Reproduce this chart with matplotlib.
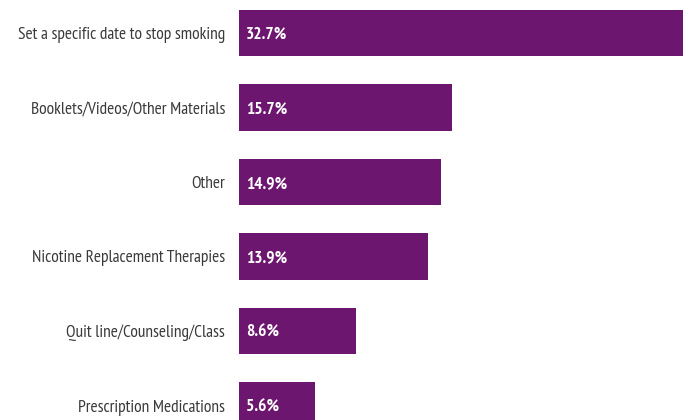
import matplotlib
matplotlib.use("Agg")
import matplotlib.pyplot as plt

categories = ["Set a specific date to stop smoking", "Booklets/Videos/Other Materials", "Other",
              "Nicotine Replacement Therapies", "Quit line/Counseling/Class", "Prescription Medications"]
values = [32.7, 15.7, 14.9, 13.9, 8.6, 5.6]
value_labels = ["32.7%", "15.7%", "14.9%", "13.9%", "8.6%", "5.6%"]

plt.rcParams['font.family'] = ['PT Sans Narrow', 'DejaVu Sans']

W, H = 690, 420
fig = plt.figure(figsize=(W/100, H/100), dpi=100)
ax = fig.add_axes([239/W, 0, (683-239)/W, 1])
pos = list(range(len(categories)))
ax.barh(pos, values, height=0.63, color="#6D1670")
ax.set_xlim(0, 32.7)
ax.set_ylim((420-33)/74.5, -33/74.5)
ax.axis("off")
for p, v, lab, cat in zip(pos, values, value_labels, categories):
    ax.annotate(lab, xy=(0, p), xytext=(7, -6), textcoords="offset pixels",
                color="white", fontweight="bold", fontsize=12.5, va="baseline", ha="left")
    ax.annotate(cat, xy=(0, p), xytext=(-14, -6), textcoords="offset pixels",
                ha="right", va="baseline", fontsize=12.5, color="#3A3A3A")
fig.savefig("out.png", dpi=100)
